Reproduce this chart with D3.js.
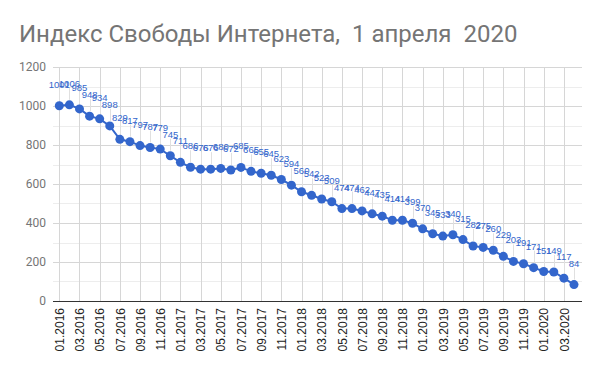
<!DOCTYPE html>
<html>
<head>
<meta charset="utf-8">
<script src="https://cdn.jsdelivr.net/npm/d3@7"></script>
<style>
  body { margin: 0; background: #fff; }
  svg { display: block; }
</style>
</head>
<body>
<script>
var months = ['01.2016','02.2016','03.2016','04.2016','05.2016','06.2016','07.2016','08.2016','09.2016','10.2016','11.2016','12.2016',
              '01.2017','02.2017','03.2017','04.2017','05.2017','06.2017','07.2017','08.2017','09.2017','10.2017','11.2017','12.2017',
              '01.2018','02.2018','03.2018','04.2018','05.2018','06.2018','07.2018','08.2018','09.2018','10.2018','11.2018','12.2018',
              '01.2019','02.2019','03.2019','04.2019','05.2019','06.2019','07.2019','08.2019','09.2019','10.2019','11.2019','12.2019',
              '01.2020','02.2020','03.2020','04.2020'];
var values = [1001, 1006, 985, 948, 934, 898, 829, 817, 797, 787, 779, 745,
              711, 686, 676, 676, 680, 672, 685, 665, 655, 645, 623, 594,
              560, 542, 523, 509, 474, 474, 462, 447, 435, 414, 414, 399,
              370, 345, 333, 340, 315, 282, 275, 260, 229, 203, 191, 171,
              151, 149, 117, 84];
var yTicks = [0, 200, 400, 600, 800, 1000, 1200];
var title = 'Индекс Свободы Интернета,  1 апреля  2020';

var scr = { w: 600, h: 371 };
var plot = { left: 53, right: 582, top: 67, bottom: 301 }; // plot area edges
var blue = '#3366cc';

var svg = d3.select('body')
            .append('svg')
            .attr('width', scr.w)
            .attr('height', scr.h);

var xScale = d3.scalePoint()
               .domain(months)
               .range([59.3, 574]);

var yScale = d3.scaleLinear()
               .domain([0, 1200])
               .range([plot.bottom, plot.top]);

// title
svg.append('text')
   .attr('x', 19)
   .attr('y', 42)
   .attr('font-family', 'Roboto')
   .attr('font-size', 24)
   .attr('fill', '#757575')
   .style('white-space', 'pre')
   .text(title);

// minor horizontal gridlines (halfway between the labelled ticks)
var minor = [];
yTicks.forEach(function(d, i){
  if (i > 0) minor.push((d + yTicks[i - 1]) / 2);
});
svg.append('g')
   .selectAll('line')
   .data(minor)
   .enter()
   .append('line')
   .attr('x1', plot.left).attr('x2', plot.right)
   .attr('y1', function(d){ return Math.round(yScale(d)) + 0.5; })
   .attr('y2', function(d){ return Math.round(yScale(d)) + 0.5; })
   .attr('stroke', '#ededed');

// major horizontal gridlines
svg.append('g')
   .selectAll('line')
   .data(yTicks.slice(1))
   .enter()
   .append('line')
   .attr('x1', plot.left).attr('x2', plot.right)
   .attr('y1', function(d){ return Math.round(yScale(d)) + 0.5; })
   .attr('y2', function(d){ return Math.round(yScale(d)) + 0.5; })
   .attr('stroke', '#d6d6d6');

// vertical gridlines every 2 months
var shown = months.filter(function(d, i){ return i % 2 === 0; });
svg.append('g')
   .selectAll('line')
   .data(shown)
   .enter()
   .append('line')
   .attr('x1', function(d){ return Math.round(xScale(d)) + 0.5; })
   .attr('x2', function(d){ return Math.round(xScale(d)) + 0.5; })
   .attr('y1', plot.top)
   .attr('y2', plot.bottom)
   .attr('stroke', '#d6d6d6');

// y axis labels
var yAxis = d3.axisLeft(yScale)
              .tickValues(yTicks)
              .tickFormat(d3.format('d'))
              .tickSize(0)
              .tickPadding(7);
var yg = svg.append('g')
            .attr('transform', 'translate(' + plot.left + ',0)')
            .call(yAxis);
yg.select('.domain').remove();
yg.selectAll('text')
  .attr('font-family', 'Roboto')
  .attr('font-size', 12)
  .attr('fill', '#757575');

// x axis
var xAxis = d3.axisBottom(xScale)
              .tickValues(shown)
              .tickSize(0);
var xg = svg.append('g')
            .attr('transform', 'translate(0,' + plot.bottom + ')')
            .call(xAxis);
xg.select('.domain').remove();
xg.selectAll('text')
  .attr('font-family', 'Liberation Sans, Arial')
  .attr('font-size', 12)
  .attr('fill', '#222')
  .attr('transform', 'rotate(-90)')
  .attr('text-anchor', 'end')
  .attr('x', -7)
  .attr('y', 0)
  .attr('dy', '0.35em');

svg.append('line')
   .attr('x1', plot.left).attr('x2', plot.right)
   .attr('y1', plot.bottom + 0.5).attr('y2', plot.bottom + 0.5)
   .attr('stroke', '#333');

var data = months.map(function(m, i){ return { month: m, value: values[i] }; });

// annotation stems
svg.append('g')
   .selectAll('line')
   .data(data)
   .enter()
   .append('line')
   .attr('x1', function(d){ return Math.round(xScale(d.month)) + 0.5; })
   .attr('x2', function(d){ return Math.round(xScale(d.month)) + 0.5; })
   .attr('y1', function(d){ return yScale(d.value) - 5; })
   .attr('y2', function(d){ return yScale(d.value) - 17; })
   .attr('stroke', '#e0e0e0');

// line
var line = d3.line()
             .x(function(d){ return xScale(d.month); })
             .y(function(d){ return yScale(d.value); });
svg.append('path')
   .datum(data)
   .attr('d', line)
   .attr('fill', 'none')
   .attr('stroke', blue)
   .attr('stroke-width', 2);

// points
svg.append('g')
   .selectAll('circle')
   .data(data)
   .enter()
   .append('circle')
   .attr('cx', function(d){ return xScale(d.month); })
   .attr('cy', function(d){ return yScale(d.value); })
   .attr('r', 4.5)
   .attr('fill', blue);

// value labels
svg.append('g')
   .selectAll('text')
   .data(data)
   .enter()
   .append('text')
   .attr('x', function(d){ return xScale(d.month); })
   .attr('y', function(d){ return yScale(d.value) - 18; })
   .attr('text-anchor', 'middle')
   .attr('font-family', 'Liberation Sans, Arial')
   .attr('font-size', 9.5)
   .attr('fill', blue)
   .text(function(d){ return d.value; });
</script>
</body>
</html>
